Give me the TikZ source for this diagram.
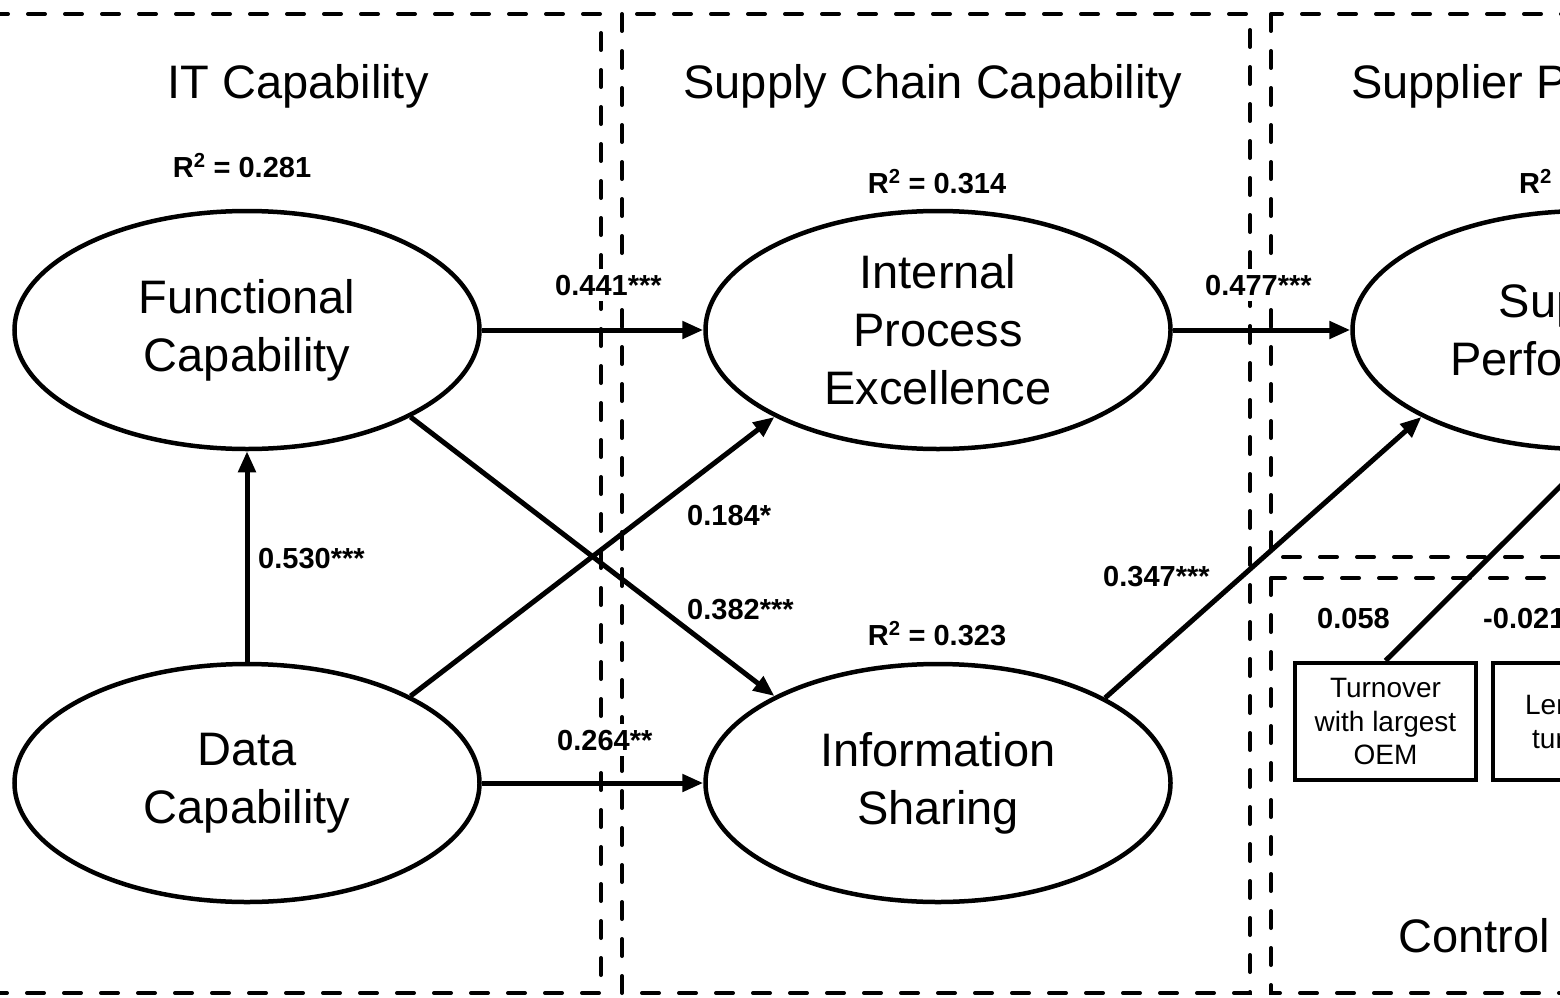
\documentclass[tikz,border=0pt]{standalone}
\usepackage{fontspec}
\setmainfont{Liberation Sans}
\usetikzlibrary{shapes.geometric,arrows.meta}
\begin{document}
\begin{tikzpicture}[x=1pt,y=-1pt,
  latent/.style={ellipse,draw,line width=4.5pt,minimum width=465pt,minimum height=238pt,
    inner sep=0pt,align=center,font=\fontsize{47}{58}\selectfont},
  heading/.style={font=\fontsize{47}{56}\selectfont,inner sep=0pt},
  coef/.style={font=\bfseries\fontsize{29}{34}\selectfont,fill=white,inner xsep=0pt,inner ysep=6pt},
  rsq/.style={font=\bfseries\fontsize{29}{34}\selectfont,inner sep=0pt},
  effect/.style={line width=5pt,-{Triangle[length=21pt,width=17pt]}},
  zone/.style={line width=4pt,dash pattern=on 17pt off 20pt,line cap=round},
  ctrl/.style={draw,line width=4.5pt,minimum width=181pt,minimum height=117pt,inner sep=0pt,
    align=center,font=\fontsize{28}{33.5}\selectfont}
]
\useasboundingbox (0,0) rectangle (1560,998);
\clip (0,0) rectangle (1560,998);

% construct groups
\draw[zone] (-30,14) rectangle (601,993);
\draw[zone] (622,14) rectangle (1250,993);
\draw[zone] (1271,14) rectangle (1640,557);
\draw[zone] (1271,578) rectangle (1640,993);

% group headings
\node[heading,anchor=base] (hIT) at (298,99) {IT Capability};
\node[heading,anchor=base] (hSC) at (933,99) {Supply Chain Capability};
\node[heading,anchor=base west] (hSP) at (1351,99) {Supplier Performance};
\node[heading,anchor=base west] (hCV) at (1398,952) {Control Variables};

% latent constructs
\node[latent] (FC) at (247,330) {Functional\\Capability};
\node[latent] (DC) at (247,783) {Data\\Capability};
\node[latent] (IPE) at (938,330) {Internal\\Process\\Excellence};
\node[latent] (IS) at (938,783) {Information\\Sharing};
\node[latent] (SP) at (1585,330) {Supplier\\Performance};

% explained variance
\node[rsq,anchor=base] (rFC) at (242,177) {R\textsuperscript{2} = 0.281};
\node[rsq,anchor=base] (rIPE) at (937,193) {R\textsuperscript{2} = 0.314};
\node[rsq,anchor=base] (rIS) at (937,645) {R\textsuperscript{2} = 0.323};
\node[rsq,anchor=base west] (rSP) at (1519,193) {R\textsuperscript{2}};

% control variables
\node[ctrl] (TO) at (1385.5,721.5) {Turnover\\with largest\\OEM};
\node[ctrl] (LT) at (1583.5,721.5) {Length of\\turnover};

% path coefficients
\node[coef,anchor=base west] (c1) at (555,295) {0.441***};
\node[coef,anchor=base west] (c2) at (1205,295) {0.477***};
\node[coef,anchor=base west] (c3) at (258,568) {0.530***};
\node[coef,anchor=base west] (c4) at (687,525) {0.184*};
\node[coef,anchor=base west] (c5) at (687,619) {0.382***};
\node[coef,anchor=base west] (c6) at (1103,586) {0.347***};
\node[coef,anchor=base west] (c7) at (557,750) {0.264**};
\node[coef,anchor=base west] (c8) at (1317,628) {0.058};
\node[coef,anchor=base west] (c9) at (1483,628) {-0.021};

% structural paths
\draw[effect] (FC) -- (IPE);
\draw[effect] (DC) -- (IS);
\draw[effect] (DC) -- (FC);
\draw[effect] (FC.-28) -- (IS.152);
\draw[effect] (DC.28) -- (IPE.-152);
\draw[effect] (IPE) -- (SP);
\draw[effect] (IS.27) -- (SP.-152);
\draw[effect] (TO.north) -- (SP.-85);
\end{tikzpicture}
\end{document}
